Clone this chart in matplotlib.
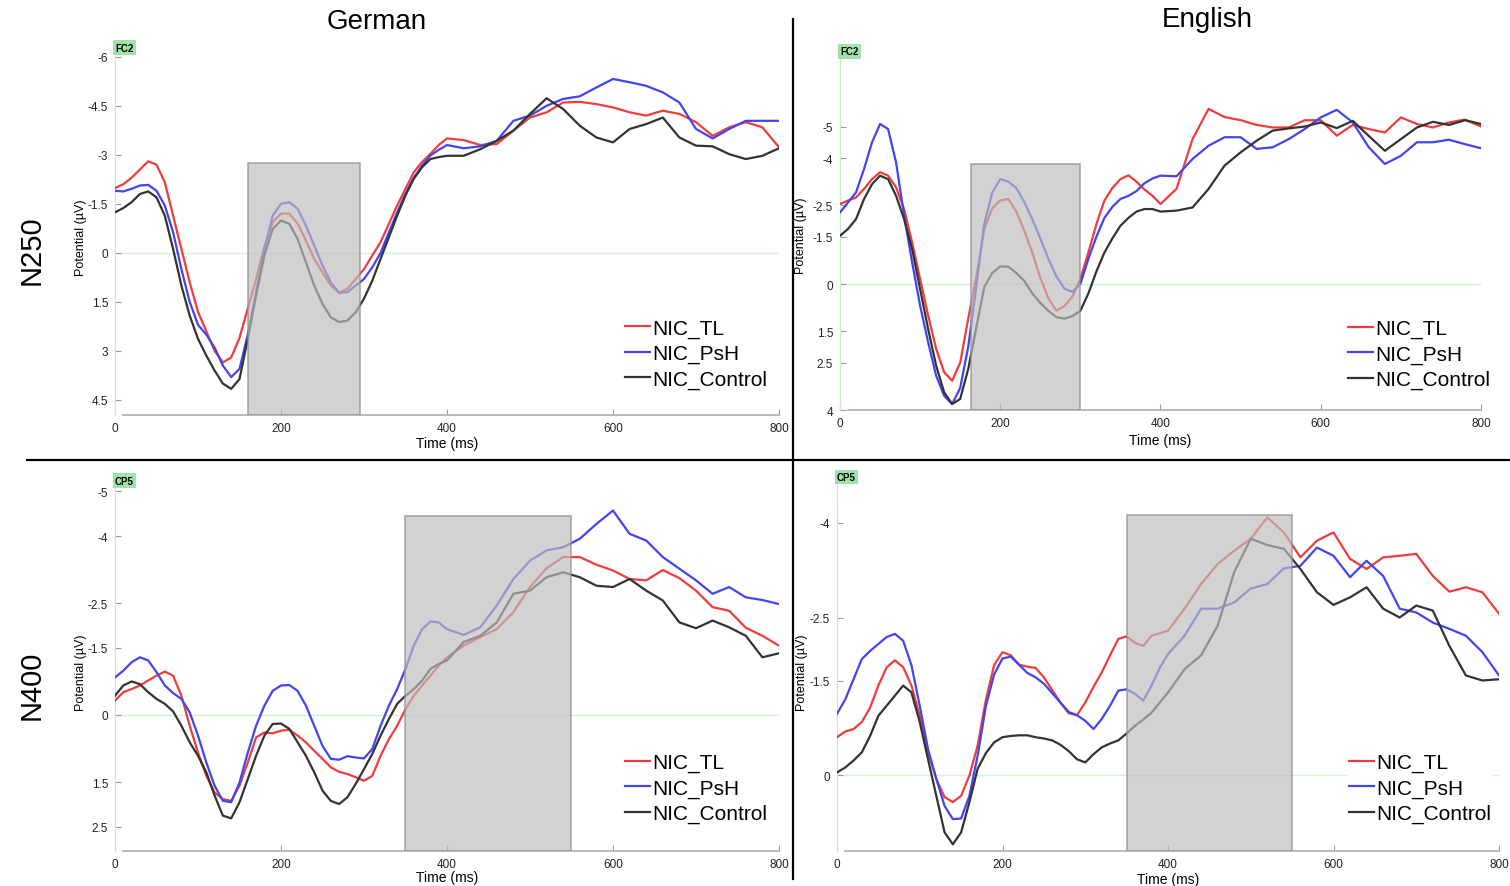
import numpy as np
import matplotlib
matplotlib.use("Agg")
import matplotlib.pyplot as plt
from matplotlib.patches import Rectangle
from matplotlib.lines import Line2D

plt.rcParams['font.family'] = ['Liberation Sans', 'DejaVu Sans']

# time grid (ms): 10 ms steps up to 400, 20 ms steps after
time_ms = np.r_[0:401:10, 420:801:20]

conditions = ["NIC_TL", "NIC_PsH", "NIC_Control"]

# German, N250, FC2
de_n250_tl = [-1.98, -2.1, -2.3, -2.55, -2.8, -2.7, -2.16, -1.14, -0.12, 0.9, 1.8, 2.4, 3.0, 3.35, 3.2,
              2.6, 1.7, 0.8, -0.2, -0.94, -1.2, -1.2, -0.9, -0.38, 0.18, 0.6, 1.0, 1.22, 1.1, 0.8,
              0.5, 0.08, -0.33, -0.89, -1.45, -1.96, -2.47, -2.78, -3.03, -3.3, -3.5,
              -3.45, -3.3, -3.33, -3.74, -4.14, -4.3, -4.6, -4.62, -4.55, -4.45, -4.3, -4.2, -4.35, -4.25,
              -4.0, -3.58, -3.84, -4.0, -3.84, -3.23]
de_n250_psh = [-1.9, -1.88, -1.96, -2.06, -2.08, -1.9, -1.45, -0.63, 0.5, 1.5, 2.2, 2.5, 2.9, 3.45, 3.8,
               3.55, 2.5, 1.2, -0.12, -1.14, -1.5, -1.55, -1.35, -0.84, -0.22, 0.39, 0.9, 1.22, 1.2, 1.0,
               0.8, 0.44, 0.0, -0.63, -1.24, -1.8, -2.3, -2.67, -2.98, -3.15, -3.3,
               -3.2, -3.26, -3.43, -4.04, -4.2, -4.5, -4.71, -4.79, -5.06, -5.32, -5.22, -5.11, -4.91, -4.6,
               -3.79, -3.5, -3.79, -4.04, -4.04, -4.04]
de_n250_ctrl = [-1.24, -1.37, -1.55, -1.8, -1.88, -1.7, -1.14, -0.12, 1.0, 1.92, 2.63, 3.14, 3.6, 4.0, 4.16,
                3.86, 2.63, 1.3, 0.08, -0.73, -0.99, -0.89, -0.43, 0.29, 1.0, 1.56, 1.97, 2.12, 2.07, 1.82,
                1.4, 0.85, 0.18, -0.48, -1.14, -1.76, -2.27, -2.62, -2.87, -2.93, -2.97,
                -2.97, -3.17, -3.43, -3.74, -4.25, -4.73, -4.4, -3.89, -3.53, -3.38, -3.79, -3.94, -4.14, -3.53,
                -3.28, -3.26, -3.02, -2.87, -2.97, -3.2]

# English, N250, FC2
en_n250_tl = [-2.54, -2.65, -2.75, -3.02, -3.33, -3.55, -3.44, -3.07, -2.38, -1.32, -0.16, 1.0, 2.06, 2.8, 3.07,
              2.5, 1.1, -0.2, -1.75, -2.4, -2.65, -2.7, -2.3, -1.7, -1.0, -0.2, 0.45, 0.85, 0.7, 0.4,
              -0.16, -1.0, -1.9, -2.65, -3.05, -3.33, -3.45, -3.25, -3.0, -2.8, -2.54,
              -3.02, -4.6, -5.56, -5.3, -5.2, -5.05, -4.97, -4.97, -5.2, -5.2, -4.71, -5.05, -4.92, -4.81,
              -5.29, -5.08, -4.97, -5.13, -5.22, -5.0]
en_n250_psh = [-2.27, -2.59, -2.91, -3.65, -4.5, -5.08, -4.92, -3.86, -2.17, -0.69, 0.69, 1.85, 2.91, 3.55, 3.81,
               3.3, 2.0, 0.1, -1.9, -2.9, -3.33, -3.25, -3.05, -2.6, -2.05, -1.45, -0.8, -0.25, 0.15, 0.25,
               0.0, -0.8, -1.5, -2.1, -2.45, -2.7, -2.8, -2.95, -3.2, -3.35, -3.44,
               -3.42, -3.97, -4.39, -4.66, -4.66, -4.29, -4.34, -4.6, -4.92, -5.29, -5.53, -5.13, -4.34, -3.81,
               -4.07, -4.5, -4.5, -4.58, -4.44, -4.31]
en_n250_ctrl = [-1.53, -1.75, -2.06, -2.7, -3.17, -3.44, -3.33, -2.8, -2.06, -1.11, 0.16, 1.43, 2.59, 3.44, 3.81,
                3.65, 2.7, 1.4, 0.1, -0.35, -0.56, -0.55, -0.35, -0.1, 0.3, 0.6, 0.85, 1.05, 1.1, 1.02,
                0.85, 0.3, -0.4, -1.0, -1.45, -1.85, -2.1, -2.3, -2.38, -2.38, -2.3,
                -2.33, -2.43, -3.02, -3.76, -4.18, -4.55, -4.87, -4.94, -5.0, -5.13, -4.95, -5.18, -4.7, -4.23,
                -4.6, -4.97, -5.15, -5.05, -5.2, -5.08]

# German, N400, CP5
de_n400_tl = [-0.32, -0.51, -0.58, -0.66, -0.77, -0.88, -0.97, -0.88, -0.43, 0.24, 0.84, 1.36, 1.73, 1.88, 1.92,
              1.58, 1.06, 0.5, 0.39, 0.41, 0.35, 0.33, 0.46, 0.61, 0.8, 0.98, 1.17, 1.27, 1.32, 1.39,
              1.47, 1.36, 0.91, 0.54, 0.24, -0.13, -0.43, -0.66, -0.88, -1.1, -1.29,
              -1.55, -1.74, -1.92, -2.3, -2.86, -3.28, -3.53, -3.53, -3.36, -3.23, -3.04, -3.01, -3.24, -3.06,
              -2.78, -2.41, -2.33, -1.95, -1.77, -1.55]
de_n400_psh = [-0.84, -0.99, -1.18, -1.29, -1.22, -0.96, -0.66, -0.49, -0.36, -0.06, 0.46, 1.06, 1.58, 1.92, 1.95,
               1.51, 0.84, 0.24, -0.21, -0.54, -0.66, -0.67, -0.54, -0.21, 0.24, 0.69, 0.98, 1.0, 0.92, 0.95,
               0.97, 0.76, 0.24, -0.21, -0.58, -1.03, -1.55, -1.92, -2.09, -2.07, -1.92,
               -1.79, -1.96, -2.45, -3.04, -3.45, -3.68, -3.75, -3.94, -4.27, -4.57, -4.05, -3.9, -3.53, -3.27,
               -3.01, -2.71, -2.86, -2.63, -2.57, -2.48]
de_n400_ctrl = [-0.43, -0.66, -0.75, -0.69, -0.51, -0.36, -0.25, -0.08, 0.24, 0.61, 0.91, 1.28, 1.8, 2.25, 2.31,
                1.95, 1.43, 0.91, 0.46, 0.2, 0.19, 0.31, 0.61, 0.91, 1.28, 1.69, 1.92, 1.99, 1.84, 1.54,
                1.21, 0.87, 0.46, 0.09, -0.25, -0.43, -0.58, -0.77, -1.03, -1.14, -1.22,
                -1.63, -1.77, -2.07, -2.71, -2.78, -3.08, -3.19, -3.08, -2.89, -2.86, -3.04, -2.78, -2.56, -2.07,
                -1.94, -2.11, -1.96, -1.77, -1.29, -1.38]

# English, N400, CP5
en_n400_tl = [-0.6, -0.69, -0.73, -0.84, -1.07, -1.42, -1.71, -1.82, -1.71, -1.42, -0.94, -0.36, 0.06, 0.35, 0.43,
              0.33, 0.01, -0.47, -1.2, -1.75, -1.95, -1.9, -1.75, -1.72, -1.7, -1.55, -1.35, -1.15, -0.98, -0.95,
              -1.15, -1.4, -1.63, -1.9, -2.16, -2.2, -2.1, -2.05, -2.21, -2.25, -2.29,
              -2.64, -3.03, -3.35, -3.56, -3.75, -4.09, -3.85, -3.455, -3.72, -3.85, -3.43, -3.27, -3.455, -3.48,
              -3.51, -3.16, -2.91, -2.98, -2.9, -2.56]
en_n400_psh = [-0.97, -1.2, -1.52, -1.84, -1.97, -2.08, -2.19, -2.24, -2.13, -1.74, -1.1, -0.41, 0.06, 0.49, 0.7,
               0.69, 0.33, -0.31, -1.1, -1.6, -1.85, -1.88, -1.75, -1.62, -1.55, -1.45, -1.3, -1.15, -1.0, -0.95,
               -0.86, -0.73, -0.89, -1.1, -1.34, -1.36, -1.29, -1.18, -1.42, -1.7, -1.92,
               -2.21, -2.64, -2.64, -2.74, -2.96, -3.03, -3.28, -3.32, -3.61, -3.48, -3.14, -3.4, -3.16, -2.64,
               -2.58, -2.42, -2.32, -2.21, -1.95, -1.58]
en_n400_ctrl = [-0.04, -0.12, -0.23, -0.36, -0.62, -0.94, -1.1, -1.26, -1.42, -1.31, -0.84, -0.25, 0.33, 0.91, 1.1,
                0.91, 0.43, -0.1, -0.35, -0.52, -0.6, -0.62, -0.63, -0.63, -0.6, -0.58, -0.55, -0.48, -0.38, -0.25,
                -0.2, -0.33, -0.44, -0.5, -0.55, -0.66, -0.78, -0.88, -0.99, -1.15, -1.31,
                -1.68, -1.9, -2.37, -3.22, -3.75, -3.65, -3.59, -3.27, -2.9, -2.7, -2.82, -2.98, -2.64, -2.5,
                -2.69, -2.61, -2.05, -1.58, -1.5, -1.52]

# analysis windows (ms) and y ticks per panel
win_n250_de = (160, 295)
win_n250_en = (163, 300)
win_n400 = (350, 550)
yticks_de_n250 = [-6, -4.5, -3, -1.5, 0, 1.5, 3, 4.5]
yticks_en_n250 = [-5, -4, -2.5, -1.5, 0, 1.5, 2.5, 4]
yticks_de_n400 = [-5, -4, -2.5, -1.5, 0, 1.5, 2.5]
yticks_en_n400 = [-4, -2.5, -1.5, 0]
xticks = [0, 200, 400, 600, 800]

colors = ["#f03c3c", "#4444ee", "#333333"]
W, H = 1510, 887

fig = plt.figure(figsize=(W / 100, H / 100), dpi=100)


def px_axes(x0, x1, ytop, ybot):
    return fig.add_axes([x0 / W, 1 - ybot / H, (x1 - x0) / W, (ybot - ytop) / H])


def tick_fmt(v):
    return f"{v:g}"


def panel(ax, series, ylim, yticks, win, win_top, electrode, elec_y, leg_xy, ylab_x, xlab_y):
    for vals, c, lab in zip(series, colors, conditions):
        ax.plot(time_ms, vals, color=c, lw=1.6, label=lab, zorder=3)
    ax.axhline(0, color="#d6efd6", lw=1.0, zorder=1)
    ax.set_xlim(0, 800)
    ax.set_ylim(*ylim)
    # shaded analysis window drawn on top of the waves
    ax.add_patch(Rectangle((win[0], ylim[0]), win[1] - win[0], win_top - ylim[0],
                           facecolor="#bdbdbd", alpha=0.68, edgecolor="#8f8f8f", lw=1.3, zorder=4))
    for s in ["top", "right"]:
        ax.spines[s].set_visible(False)
    ax.spines["left"].set_color("#c8ebc8")
    ax.spines["bottom"].set_color("#b5b5b5")
    ax.spines["bottom"].set_linewidth(1.3)
    ax.spines["bottom"].set_bounds(10, 800)
    ax.set_xticks(xticks)
    ax.set_yticks(yticks)
    ax.set_yticklabels([tick_fmt(v) for v in yticks])
    ax.tick_params(direction="in", length=4, width=0.8, color="#9a9a9a", labelsize=8.5,
                   labelcolor="#222222", pad=5)
    ax.set_ylabel("Potential (µV)", fontsize=9)
    ax.yaxis.set_label_coords(ylab_x, 0.48)
    ax.set_xlabel("Time (ms)", fontsize=10)
    ax.xaxis.set_label_coords(0.5, xlab_y)
    ax.text(0.0, elec_y, electrode, transform=ax.transAxes, fontsize=7, fontweight="bold",
            ha="left", va="center", zorder=6,
            bbox=dict(boxstyle="square,pad=0.25", facecolor="#9fe3a8", edgecolor="none"))
    leg = ax.legend(loc="center left", bbox_to_anchor=leg_xy, frameon=True, fontsize=15,
                    handlelength=1.2, handletextpad=0.1, labelspacing=0.3, borderpad=0.1,
                    borderaxespad=0)
    leg.get_frame().set_facecolor("white")
    leg.get_frame().set_edgecolor("none")
    leg.get_frame().set_alpha(1)
    leg.set_zorder(7)


ax1 = px_axes(115, 779, 45, 416)
panel(ax1, [de_n250_tl, de_n250_psh, de_n250_ctrl], (4.96, -6.39), yticks_de_n250,
      win_n250_de, -2.75, "FC2", 0.99, (0.765, 0.165), -0.042, -0.057)

ax2 = px_axes(840, 1481, 45, 411)
panel(ax2, [en_n250_tl, en_n250_psh, en_n250_ctrl], (4.0, -7.62), yticks_en_n250,
      win_n250_en, -3.8, "FC2", 0.98, (0.79, 0.153), -0.051, -0.063)

ax3 = px_axes(115, 779, 478, 852)
panel(ax3, [de_n400_tl, de_n400_psh, de_n400_ctrl], (3.04, -5.32), yticks_de_n400,
      win_n400, -4.45, "CP5", 0.99, (0.765, 0.168), -0.042, -0.05)

ax4 = px_axes(837, 1499, 478, 852)
panel(ax4, [en_n400_tl, en_n400_psh, en_n400_ctrl], (1.206, -4.73), yticks_en_n400,
      win_n400, -4.12, "CP5", 1.0, (0.77, 0.168), -0.044, -0.055)

# column / row headings
fig.text(377 / W, 1 - 22 / H, "German", fontsize=20, ha="center", va="center")
fig.text(1207 / W, 1 - 20 / H, "English", fontsize=20, ha="center", va="center")
fig.text(32 / W, 1 - 250 / H, "N250", fontsize=21, rotation=90, ha="center", va="center")
fig.text(32 / W, 1 - 685 / H, "N400", fontsize=21, rotation=90, ha="center", va="center")

# divider lines
fig.add_artist(Line2D([793 / W, 793 / W], [1 - 20 / H, 1 - 880 / H], color="black", lw=1.6))
fig.add_artist(Line2D([27 / W, 1.0], [1 - 461 / H, 1 - 461 / H], color="black", lw=1.6))

fig.savefig("out.png", dpi=100)
